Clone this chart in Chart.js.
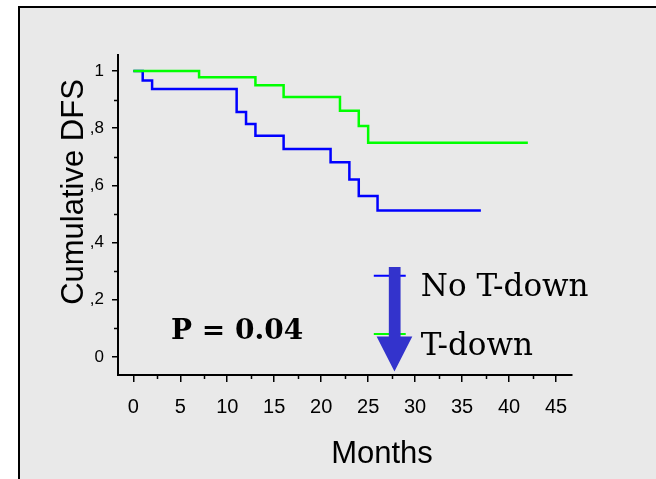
<!DOCTYPE html>
<html>
<head>
<meta charset="utf-8">
<script src="https://cdn.jsdelivr.net/npm/chart.js@4"></script>
<style>
  html, body { margin: 0; padding: 0; background: #fff; }
  canvas { display: block; }
</style>
</head>
<body>
<canvas id="dfsChart" width="656" height="479"></canvas>
<script>
// Kaplan-Meier curves
const tDownMonths = [0, 7, 13, 16, 22, 24, 25, 42];
const tDownDFS = [1, 0.978, 0.95, 0.909, 0.861, 0.808, 0.749, 0.749];
const noTDownMonths = [0, 1, 2, 11, 12, 13, 16, 21, 23, 24, 26, 37];
const noTDownDFS = [1, 0.967, 0.937, 0.857, 0.815, 0.774, 0.727, 0.681, 0.621, 0.563, 0.512, 0.512];

const xTicks = [0, 5, 10, 15, 20, 25, 30, 35, 40, 45];
const xMinorTicks = [2.5, 7.5, 12.5, 17.5, 22.5, 27.5, 32.5, 37.5, 42.5];
const yTicks = [0, 0.2, 0.4, 0.6, 0.8, 1];
const yTickLabels = ['0', ',2', ',4', ',6', ',8', '1'];
const yMinorTicks = [0.1, 0.3, 0.5, 0.7, 0.9];

const seriesNames = ['No T-down', 'T-down'];
const pValueText = 'P = 0.04';

function toPoints(xs, ys) {
    return xs.map((x, i) => ({ x: x, y: ys[i] }));
}

// Panel background, frame, minor ticks, titles, legend and arrow
const decorPlugin = {
    id: 'decor',
    beforeDraw(chart) {
        const ctx = chart.ctx;
        ctx.save();
        ctx.fillStyle = '#e9e9e9';
        ctx.fillRect(18, 6, chart.width - 18, chart.height - 6);
        ctx.strokeStyle = '#000';
        ctx.lineWidth = 2;
        ctx.beginPath();
        ctx.moveTo(19, chart.height);
        ctx.lineTo(19, 7);
        ctx.lineTo(chart.width, 7);
        ctx.stroke();
        ctx.restore();
    },
    afterDraw(chart) {
        const ctx = chart.ctx;
        const xs = chart.scales.x;
        const ys = chart.scales.y;
        const area = chart.chartArea;
        ctx.save();

        // minor ticks
        ctx.strokeStyle = '#000';
        ctx.lineWidth = 1.5;
        ctx.beginPath();
        xMinorTicks.forEach(v => {
            const px = Math.round(xs.getPixelForValue(v)) + 0.5;
            ctx.moveTo(px, area.bottom);
            ctx.lineTo(px, area.bottom + 4);
        });
        yMinorTicks.forEach(v => {
            const py = Math.round(ys.getPixelForValue(v)) + 0.5;
            ctx.moveTo(area.left, py);
            ctx.lineTo(area.left - 4, py);
        });
        ctx.stroke();

        // axis titles
        ctx.fillStyle = '#000';
        ctx.font = '31px "Liberation Sans", Arial, sans-serif';
        ctx.textAlign = 'center';
        ctx.textBaseline = 'alphabetic';
        ctx.fillText('Months', 382, 463);
        ctx.save();
        ctx.translate(83, 192);
        ctx.rotate(-Math.PI / 2);
        ctx.fillText('Cumulative DFS', 0, 0);
        ctx.restore();

        // p value
        ctx.textAlign = 'left';
        ctx.font = 'bold 28px "DejaVu Serif", serif';
        ctx.fillText(pValueText, 171, 339);

        // legend lines
        const lx0 = xs.getPixelForValue(25.6);
        const lx1 = xs.getPixelForValue(29.0);
        ctx.lineWidth = 2;
        ctx.strokeStyle = '#0000ff';
        ctx.beginPath();
        ctx.moveTo(lx0, ys.getPixelForValue(0.284));
        ctx.lineTo(lx1, ys.getPixelForValue(0.284));
        ctx.stroke();
        ctx.strokeStyle = '#00ff00';
        ctx.beginPath();
        ctx.moveTo(lx0, ys.getPixelForValue(0.08));
        ctx.lineTo(lx1, ys.getPixelForValue(0.08));
        ctx.stroke();

        // legend text
        ctx.font = '31px "DejaVu Serif", serif';
        const tx = xs.getPixelForValue(30.6);
        ctx.fillText(seriesNames[0], tx, ys.getPixelForValue(0.213));
        ctx.fillText(seriesNames[1], tx, ys.getPixelForValue(0.007));

        // big arrow
        const sL = xs.getPixelForValue(27.2);
        const sR = xs.getPixelForValue(28.45);
        const hL = xs.getPixelForValue(25.9);
        const hR = xs.getPixelForValue(29.7);
        const tip = xs.getPixelForValue(27.8);
        const top = ys.getPixelForValue(0.315);
        const neck = ys.getPixelForValue(0.072);
        const end = ys.getPixelForValue(-0.051);
        ctx.fillStyle = '#3333cc';
        ctx.beginPath();
        ctx.moveTo(sL, top);
        ctx.lineTo(sR, top);
        ctx.lineTo(sR, neck);
        ctx.lineTo(hR, neck);
        ctx.lineTo(tip, end);
        ctx.lineTo(hL, neck);
        ctx.lineTo(sL, neck);
        ctx.closePath();
        ctx.fill();

        ctx.restore();
    }
};

new Chart(document.getElementById('dfsChart'), {
    type: 'line',
    data: {
        datasets: [
            {
                label: seriesNames[1],
                data: toPoints(tDownMonths, tDownDFS),
                borderColor: '#00ff00',
                borderWidth: 2.5,
                stepped: true,
                pointRadius: 0,
                fill: false
            },
            {
                label: seriesNames[0],
                data: toPoints(noTDownMonths, noTDownDFS),
                borderColor: '#0000ff',
                borderWidth: 2.5,
                stepped: true,
                pointRadius: 0,
                fill: false
            }
        ]
    },
    options: {
        responsive: false,
        animation: false,
        layout: { padding: { left: 0, top: 55, right: 84, bottom: 0 } },
        plugins: {
            legend: { display: false },
            tooltip: { enabled: false }
        },
        scales: {
            x: {
                type: 'linear',
                min: -1.63,
                max: 46.7,
                afterFit: scale => { scale.height = 104; },
                afterBuildTicks: scale => { scale.ticks = xTicks.map(v => ({ value: v })); },
                border: { color: '#000', width: 2 },
                grid: { drawOnChartArea: false, color: '#000', lineWidth: 1.5, tickLength: 7 },
                ticks: {
                    color: '#000',
                    font: { family: '"Liberation Sans", Arial, sans-serif', size: 20 },
                    padding: 13,
                    maxRotation: 0,
                    autoSkip: false
                }
            },
            y: {
                type: 'linear',
                min: -0.063,
                max: 1.056,
                afterFit: scale => { scale.width = 118; },
                afterBuildTicks: scale => { scale.ticks = yTicks.map(v => ({ value: v })); },
                border: { color: '#000', width: 2 },
                grid: { drawOnChartArea: false, color: '#000', lineWidth: 1.5, tickLength: 6 },
                ticks: {
                    color: '#000',
                    font: { family: '"Liberation Sans", Arial, sans-serif', size: 17 },
                    padding: 8,
                    callback: (value, index) => yTickLabels[index]
                }
            }
        }
    },
    plugins: [decorPlugin]
});
</script>
</body>
</html>
